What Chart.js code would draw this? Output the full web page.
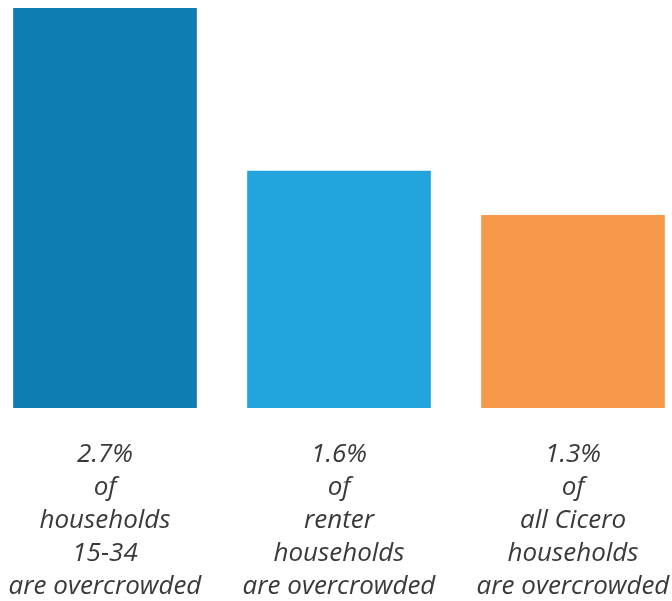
<!DOCTYPE html>
<html lang="en">

<head>
    <meta charset="UTF-8">
    <title>Overcrowded households</title>
    <script src="https://cdn.jsdelivr.net/npm/chart.js"></script>
    <style>
        html, body { margin: 0; padding: 0; background: #fff; overflow: hidden; }
        #wrap { position: absolute; left: -12px; top: 0; }
    </style>
</head>

<body>
    <div id="wrap">
        <canvas id="myChart" width="702" height="601"></canvas>
    </div>

    <script>
        // andel overbefolkede husstande (%)
        const values = [2.7, 1.6, 1.3];
        const labels = [
            ['2.7%', 'of', 'households', '15-34', 'are overcrowded'],
            ['1.6%', 'of', 'renter', 'households', 'are overcrowded'],
            ['1.3%', 'of', 'all Cicero', 'households', 'are overcrowded']
        ];
        const colors = ['#0d7db4', '#22a5dc', '#f7994b'];

        let ctx = document.getElementById('myChart').getContext('2d');
        let myChart = new Chart(ctx, {
            type: 'bar',
            data: {
                labels: labels,
                datasets: [{
                    data: values,
                    backgroundColor: colors,
                    borderWidth: 0,
                    barThickness: 183
                }]
            },
            options: {
                responsive: false,
                animation: false,
                layout: { padding: { top: 8, left: 0, right: 0, bottom: 0 } },
                plugins: {
                    legend: { display: false },
                    tooltip: { enabled: false }
                },
                scales: {
                    x: {
                        grid: { display: false, drawTicks: false },
                        border: { display: false },
                        // fast højde til akseteksten og ingen ekstra sidemargen
                        afterFit: (scale) => {
                            scale.height = 193;
                            scale.paddingLeft = 0;
                            scale.paddingRight = 0;
                        },
                        ticks: {
                            padding: 30,
                            color: '#3a3a3a',
                            maxRotation: 0,
                            autoSkip: false,
                            font: { family: 'Open Sans', style: 'italic', size: 26, lineHeight: '33px' }
                        }
                    },
                    y: {
                        display: false,
                        min: 0,
                        max: 2.7
                    }
                }
            }
        });
    </script>
</body>

</html>
